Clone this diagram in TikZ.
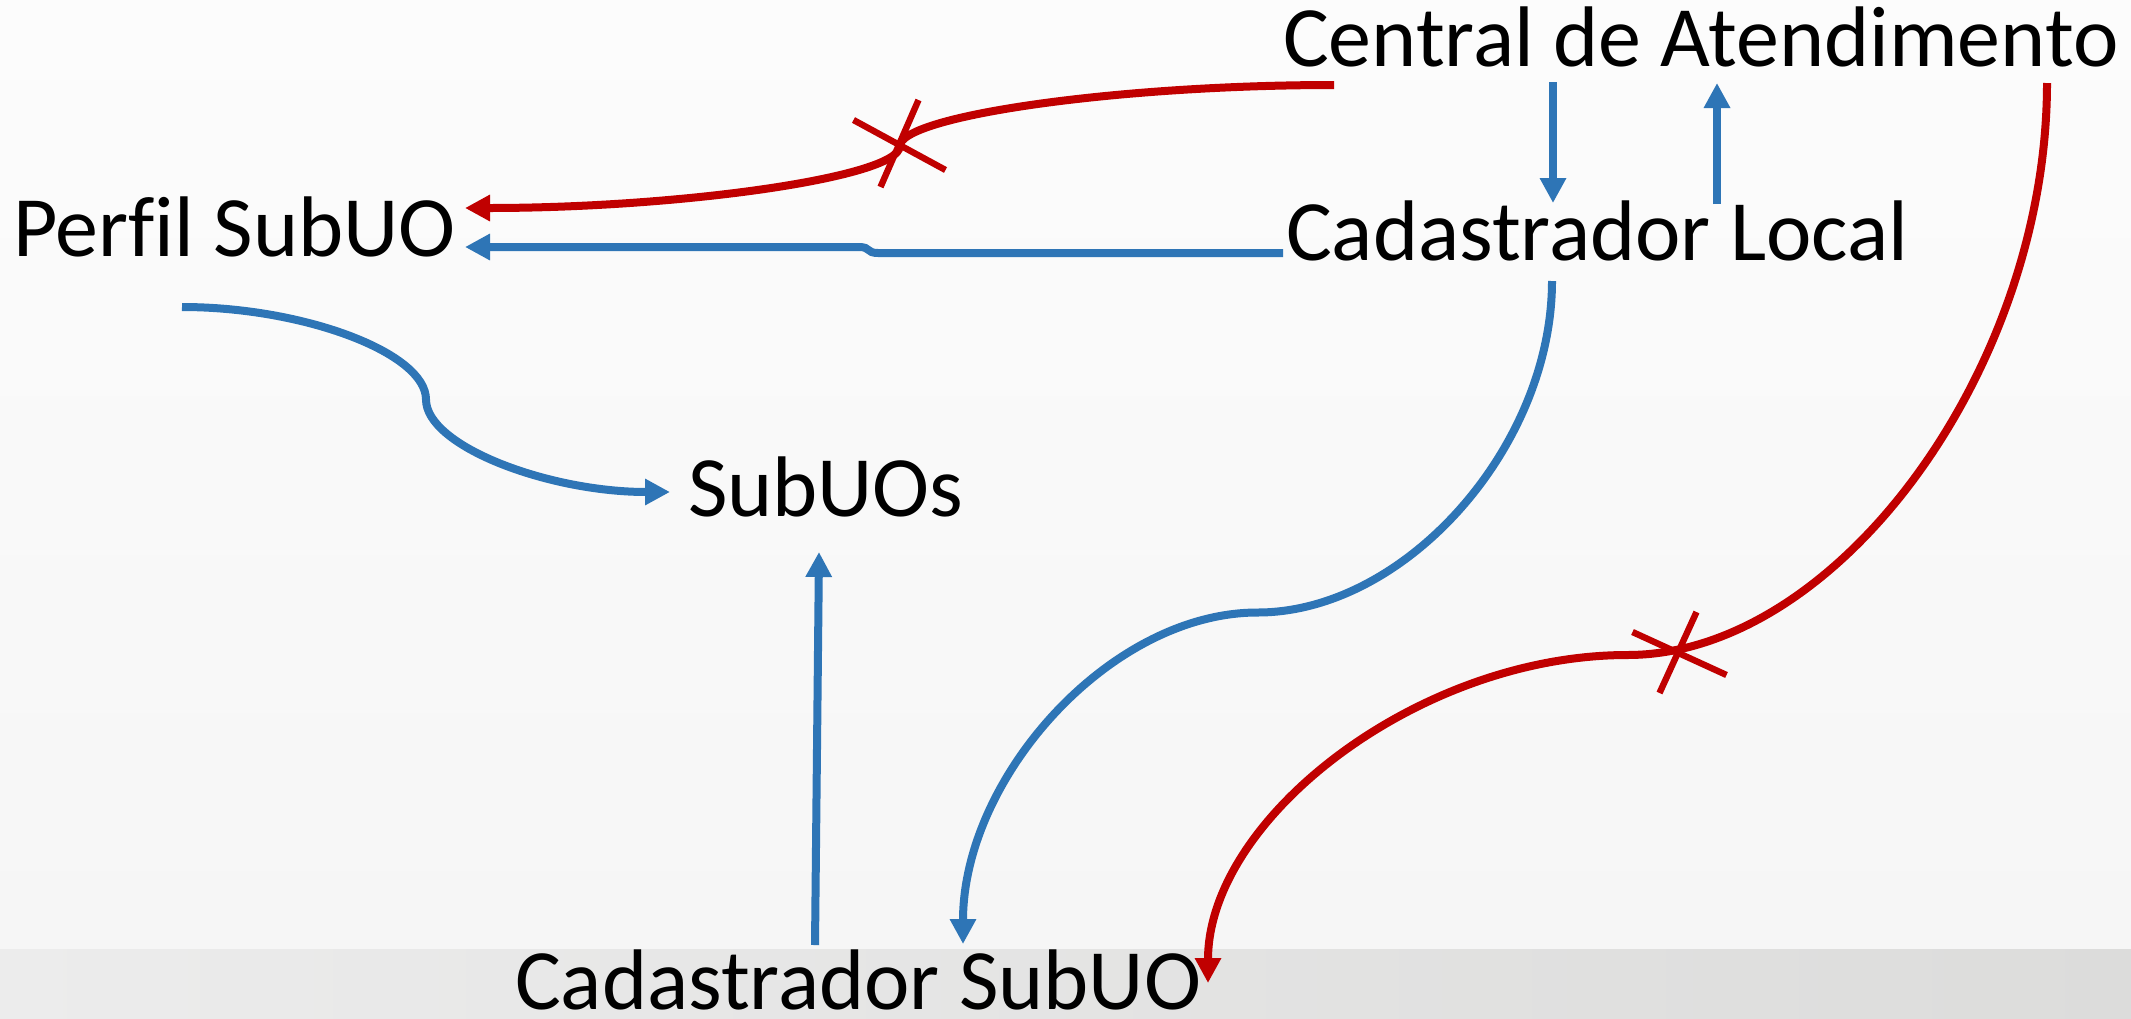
\documentclass[tikz,border=0pt]{standalone}
\usepackage{fontspec}
\setmainfont{Carlito}[Ligatures=NoCommon]
\usetikzlibrary{arrows.meta,calc}
\definecolor{cblue}{RGB}{46,117,182}
\definecolor{cred}{RGB}{192,0,0}
\definecolor{bgtop}{RGB}{252,252,252}
\definecolor{bgbot}{RGB}{246,246,246}
\definecolor{bandl}{RGB}{236,236,236}
\definecolor{bandr}{RGB}{220,220,219}
\tikzset{
  lbl/.style={anchor=base west, inner sep=0pt, outer sep=0pt, font=\fontsize{43pt}{51pt}\selectfont, text=black},
  bluec/.style={draw=cblue, line width=4pt, -{Triangle[length=12.5pt,width=12.5pt]}},
  redc/.style={draw=cred, line width=4pt, -{Triangle[length=12.5pt,width=12.5pt]}},
  xmark/.style={draw=cred, line width=3.2pt}
}
\begin{document}
\begin{tikzpicture}[x=0.5pt,y=-0.5pt]
\useasboundingbox (0,0) rectangle (2131,1018);
\shade[top color=bgtop, bottom color=bgbot] (0,0) rectangle (2131,949);
\shade[left color=bandl, right color=bandr] (0,949) rectangle (2131,1018);

% nodes
\node[lbl] (ca) at (1283,66) {Central de Atendimento};
\node[lbl] (cl) at (1286,260) {Cadastrador Local};
\node[lbl] (ps) at (13,256) {Perfil SubUO};
\node[lbl] (su) at (688,516) {SubUOs};
\node[lbl] (cs) at (515,1009) {Cadastrador SubUO};

% connector end points
\coordinate (ca-red1) at (1334,85);
\coordinate (ps-red)  at (465,208);
\coordinate (m1)      at (899.5,146.5);
\coordinate (cl-blue) at (1283,253);
\coordinate (ps-blue) at (465,247);
\coordinate (ps-out)  at (182,307);
\coordinate (su-in)   at (670,492);
\coordinate (m3)      at (426,399.5);
\coordinate (ca-down) at (1553,82);
\coordinate (cl-top1) at (1553,203);
\coordinate (cl-top2) at (1717,204);
\coordinate (ca-up)   at (1717,83);
\coordinate (cl-out)  at (1552,281);
\coordinate (cs-in1)  at (963,944);
\coordinate (m5)      at (1257.5,612.5);
\coordinate (ca-red2) at (2047,83);
\coordinate (cs-in2)  at (1208,983);
\coordinate (m6)      at (1627.5,655);
\coordinate (cs-out)  at (815,945);
\coordinate (su-bot)  at (819,552);
\coordinate (x1) at (898.5,145);
\coordinate (x6) at (1677.5,653);

% Central -> Perfil SubUO (red, blocked)
\draw[redc] (ca-red1) .. controls (1117,85) and (899.5,116) .. (m1)
  .. controls (899.5,177) and (682,208) .. (ps-red);
\draw[xmark] ($(x1)+(-45,-25)$) -- ($(x1)+(47,25)$);
\draw[xmark] ($(x1)+(20,-45)$) -- ($(x1)+(-18,42)$);

% Cadastrador Local -> Perfil SubUO
\draw[bluec] (cl-blue) -- (878,253) .. controls (866,253) and (871,247) .. (859,247) -- (ps-blue);

% Perfil SubUO -> SubUOs
\draw[bluec] (ps-out) .. controls (304,307) and (426,353) .. (m3)
  .. controls (426,446) and (548,492) .. (su-in);

% Central <-> Cadastrador Local
\draw[bluec] (ca-down) -- (cl-top1);
\draw[bluec] (cl-top2) -- (ca-up);

% Cadastrador Local -> Cadastrador SubUO
\draw[bluec] (cl-out) .. controls (1552,447) and (1405,612.5) .. (m5)
  .. controls (1110,612.5) and (963,778) .. (cs-in1);

% Central -> Cadastrador SubUO (red, blocked)
\draw[redc] (ca-red2) .. controls (2047,369) and (1837,655) .. (m6)
  .. controls (1418,655) and (1208,819) .. (cs-in2);
\draw[xmark] ($(x6)+(-45,-21)$) -- ($(x6)+(49,22)$);
\draw[xmark] ($(x6)+(19,-41)$) -- ($(x6)+(-18,40)$);

% Cadastrador SubUO -> SubUOs
\draw[bluec] (cs-out) -- (su-bot);
\end{tikzpicture}
\end{document}
